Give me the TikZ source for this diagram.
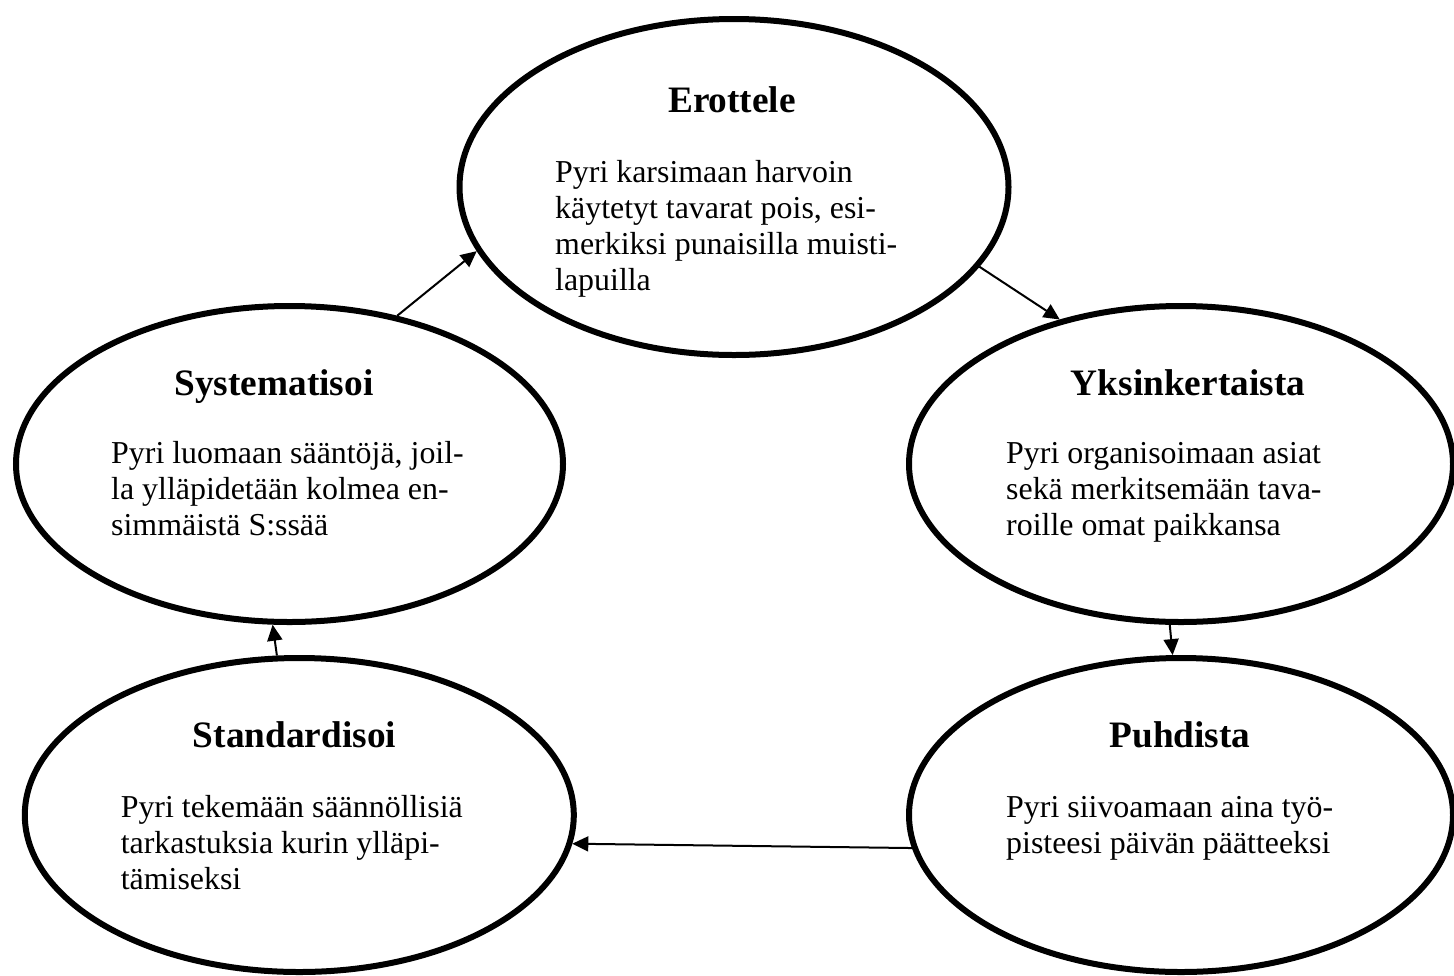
\documentclass[tikz,border=0pt]{standalone}
\usepackage{fontspec}
\setmainfont{Liberation Serif}
\usetikzlibrary{arrows.meta,shapes.geometric}

% type sizes for the headings and the descriptions
\newcommand\headfont{\fontsize{37.3}{44}\selectfont\bfseries}
\newcommand\descfont{\fontsize{31.9}{36.2}\selectfont}
% left-aligned block of lines whose baseline is that of its first line
\newcommand\desclines[1]{\vtop{\descfont\halign{##\hfil\cr#1\crcr}}}

\tikzset{
  oval/.style={draw, ellipse, line width=6pt, inner sep=0pt},
  headtext/.style={anchor=base, inner sep=0pt, font=\headfont},
  desctext/.style={anchor=base west, inner sep=0pt},
  flow/.style={line width=2pt, -{Triangle[length=16pt,width=15pt]}}
}

\begin{document}
\begin{tikzpicture}[x=1pt, y=-1pt]
\useasboundingbox (0,0) rectangle (1454,975);

% the five stages
\node[oval, minimum width=549pt, minimum height=336pt] (ero) at (734,187) {};
\node[oval, minimum width=547pt, minimum height=316pt] (sys) at (289.5,464) {};
\node[oval, minimum width=544pt, minimum height=316pt] (yks) at (1181,464) {};
\node[oval, minimum width=549pt, minimum height=314pt] (std) at (299.3,815) {};
\node[oval, minimum width=544pt, minimum height=314pt] (pud) at (1181,815) {};

% headings
\node[headtext] (ero-h) at (732,112) {Erottele};
\node[headtext] (sys-h) at (274,395) {Systematisoi};
\node[headtext] (yks-h) at (1188,395) {Yksinkertaista};
\node[headtext] (std-h) at (294.5,747) {Standardisoi};
\node[headtext] (pud-h) at (1180,747) {Puhdista};

% descriptions
\node[desctext] (ero-d) at (555,182) {\desclines{Pyri karsimaan harvoin\cr
  käytetyt tavarat pois, esi-\cr merkiksi punaisilla muisti-\cr lapuilla}};
\node[desctext] (sys-d) at (111,463) {\desclines{Pyri luomaan sääntöjä, joil-\cr
  la ylläpidetään kolmea en-\cr simmäistä S:ssää}};
\node[desctext] (yks-d) at (1006,463) {\desclines{Pyri organisoimaan asiat\cr
  sekä merkitsemään tava-\cr roille omat paikkansa}};
\node[desctext] (std-d) at (120.6,817) {\desclines{Pyri tekemään säännöllisiä\cr
  tarkastuksia kurin ylläpi-\cr tämiseksi}};
\node[desctext] (pud-d) at (1006,817) {\desclines{Pyri siivoamaan aina työ-\cr
  pisteesi päivän päätteeksi}};

% the cycle
\draw[flow] (sys.54.8) -- (ero.194.4);
\draw[flow] (ero.342) -- (yks.130.5);
\draw[flow] (yks.266.4) -- (pud.93.6);
\draw[flow] (pud.187.8) -- (std.354.2);
\draw[flow] (std.98.5) -- (sys.264.6);
\end{tikzpicture}
\end{document}
